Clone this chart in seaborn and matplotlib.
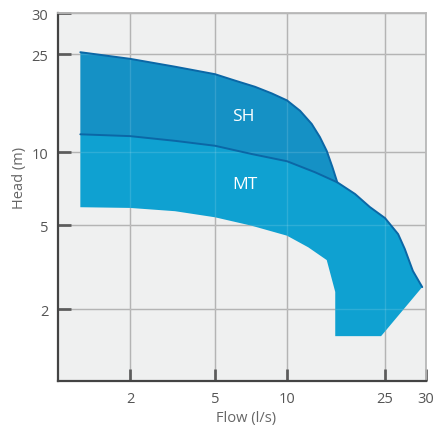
import numpy as np
import matplotlib
matplotlib.use("Agg")
import matplotlib.pyplot as plt
import seaborn as sns

# # # data (flow in l/s, head in m) # # #

# SH band, upper curve
sh_flow = [1.24, 2, 3.25, 5, 6.06, 7.35, 8.63, 10, 11.3, 12.6, 13.6, 14.5, 15.3, 16.0]
sh_head = [25.2, 23.9, 22.2, 20.7, 19.5, 18.4, 17.3, 16.2, 14.7, 13.0, 11.5, 10.1, 8.65, 7.5]

# MT band, upper curve (also lower edge of SH)
mt_top_flow = [1.24, 2, 3.25, 5, 7.12, 10, 13.0, 16.0, 18.9, 21.7, 25, 26.5, 27.3, 28.3, 29.5]
mt_top_head = [11.8, 11.6, 11.1, 10.6, 9.81, 9.16, 8.25, 7.5, 6.71, 5.93, 5.34, 4.53, 3.85, 3.03, 2.54]

# MT band, lower edge
mt_bot_flow = [1.24, 2, 3.25, 5, 7.12, 10, 12.2, 14.5, 15.7, 15.7, 24.1]
mt_bot_head = [5.92, 5.88, 5.70, 5.38, 4.96, 4.45, 3.92, 3.41, 2.41, 1.54, 1.54]

tick_vals = [2, 5, 10, 25, 30]
tick_labels = ["2", "5", "10", "25", "30"]

# # # axis scale: piecewise log, knots as on the original chart # # #

X_KNOTS = [1, 2, 5, 10, 25, 30]
X_KNOT_POS = [0, 72, 157, 229, 327, 368]
Y_KNOTS = [1, 2, 5, 10, 25, 30]
Y_KNOT_POS = [0, 72, 156, 229, 327, 368]


def make_scale(knots, pos):
	lk = np.log10(knots)

	def fwd(v):
		v = np.clip(np.asarray(v, dtype=float), 1e-6, None)
		return np.interp(np.log10(v), lk, pos)

	def inv(p):
		return 10 ** np.interp(np.asarray(p, dtype=float), pos, lk)

	return fwd, inv


# # # style # # #

sns.set_theme(style="white")
plt.rcParams["font.family"] = ["Open Sans", "DejaVu Sans"]

SH_COL = "#1591c5"
MT_COL = "#0fa1d1"
EDGE_COL = "#0b67a6"

fig = plt.figure(figsize=(4.35, 4.31), dpi=100)
ax = fig.add_axes([58 / 435, 1 - 382 / 431, 368 / 435, 368 / 431])

ax.set_xscale("function", functions=make_scale(X_KNOTS, X_KNOT_POS))
ax.set_yscale("function", functions=make_scale(Y_KNOTS, Y_KNOT_POS))

ax.set_facecolor("#eff0f0")

# # # bands # # #

n_shared = mt_top_flow.index(sh_flow[-1]) + 1
sh_poly_x = sh_flow + mt_top_flow[:n_shared][::-1]
sh_poly_y = sh_head + mt_top_head[:n_shared][::-1]
ax.fill(sh_poly_x, sh_poly_y, color=SH_COL, lw=0, zorder=1)

mt_poly_x = mt_top_flow + mt_bot_flow[::-1]
mt_poly_y = mt_top_head + mt_bot_head[::-1]
ax.fill(mt_poly_x, mt_poly_y, color=MT_COL, lw=0, zorder=1.1)

# faint grid showing through the bands
for v in tick_vals:
	ax.axvline(v, color="white", alpha=0.13, lw=1, zorder=1.5)
	ax.axhline(v, color="white", alpha=0.13, lw=1, zorder=1.5)

# outlines of the upper curves
sns.lineplot(x=sh_flow, y=sh_head, sort=False, color=EDGE_COL, lw=1.4, ax=ax, zorder=2)
sns.lineplot(x=mt_top_flow, y=mt_top_head, sort=False, color=EDGE_COL, lw=1.4, ax=ax, zorder=2)

ax.text(6.55, 14.0, "SH", color="white", fontsize=12.5, ha="center", va="center", zorder=3)
ax.text(6.67, 7.38, "MT", color="white", fontsize=12.5, ha="center", va="center", zorder=3)

# # # axes # # #

ax.set_xlim(1, 30)
ax.set_ylim(1, 30)
ax.set_xticks(tick_vals, tick_labels)
ax.set_yticks(tick_vals, tick_labels)
ax.xaxis.set_minor_locator(matplotlib.ticker.NullLocator())
ax.yaxis.set_minor_locator(matplotlib.ticker.NullLocator())

ax.set_axisbelow(True)
ax.grid(True, color="#a9a9a9", lw=1)

ax.tick_params(direction="in", length=9, width=1.8, color="#444444",
	labelcolor="#555555", labelsize=10.5, pad=7, bottom=True, left=True)

for s in ["left", "bottom"]:
	ax.spines[s].set_color("#444444")
	ax.spines[s].set_linewidth(1.6)
for s in ["top", "right"]:
	ax.spines[s].set_color("#b8b8b8")
	ax.spines[s].set_linewidth(1.3)

ax.set_xlabel("Flow (l/s)", fontsize=10.5, color="#666666")
ax.set_ylabel("Head (m)", fontsize=10.5, color="#666666")
ax.xaxis.set_label_coords(0.51, -0.08)
ax.yaxis.set_label_coords(-0.085, 0.555)

fig.savefig("out.png", dpi=100)
